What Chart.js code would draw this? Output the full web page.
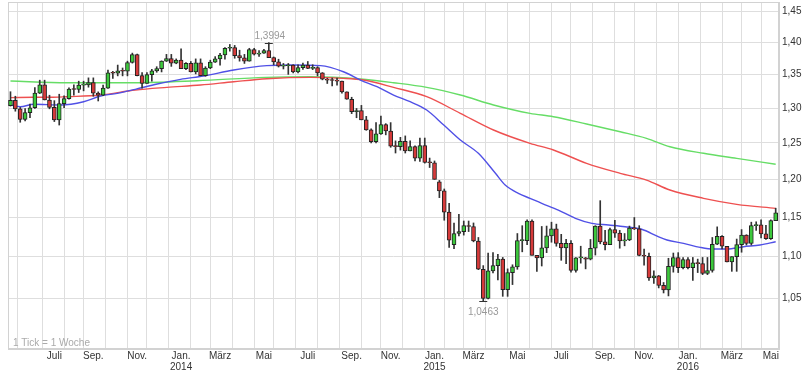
<!DOCTYPE html>
<html><head><meta charset="utf-8">
<script src="https://cdn.jsdelivr.net/npm/chart.js@4.4.1/dist/chart.umd.min.js"></script>
<style>html,body{margin:0;padding:0;background:#fff}#wrap{width:812px;height:376px}</style>
</head><body><div id="wrap"><canvas id="c" width="812" height="376"></canvas></div>
<script>
// Weekly candles EUR/USD, first week starts 2013-04-29 (index 0), last 2016-05-02 (index 157)
const firstWeek = '2013-04-29';
const open = [
1.3035,1.3115,1.2990,1.2835,1.2935,1.3005,1.3220,1.3345,1.3120,1.3010,
1.2830,1.3065,1.3140,1.3280,1.3275,1.3340,1.3345,1.3380,1.3220,1.3190,
1.3295,1.3525,1.3520,1.3555,1.3550,1.3685,1.3805,1.3485,1.3365,1.3500,
1.3555,1.3590,1.3705,1.3745,1.3675,1.3720,1.3590,1.3670,1.3540,1.3680,
1.3485,1.3600,1.3690,1.3740,1.3800,1.3905,1.3915,1.3790,1.3755,1.3705,
1.3885,1.3815,1.3830,1.3870,1.3760,1.3695,1.3630,1.3635,1.3645,1.3540,
1.3605,1.3645,1.3595,1.3605,1.3525,1.3430,1.3415,1.3410,1.3400,1.3240,
1.3130,1.2950,1.2965,1.2830,1.2685,1.2520,1.2630,1.2760,1.2670,1.2455,
1.2450,1.2525,1.2390,1.2450,1.2290,1.2465,1.2230,1.2225,1.1965,1.1845,
1.1565,1.1150,1.1290,1.1315,1.1390,1.1380,1.1195,1.0845,1.0495,1.0825,
1.0890,1.0970,1.0600,1.0805,1.0875,1.1200,1.1200,1.1450,1.1015,1.0985,
1.1110,1.1260,1.1350,1.1165,1.1110,1.1165,1.0830,1.0985,1.0985,1.0970,
1.1105,1.1385,1.1185,1.1150,1.1340,1.1295,1.1195,1.1210,1.1360,1.1350,
1.1015,1.1005,1.0740,1.0765,1.0650,1.0595,1.0880,1.0990,1.0865,1.0965,
1.0865,1.0925,1.0915,1.0795,1.0830,1.1155,1.1255,1.1130,1.0935,1.1000,
1.1150,1.1270,1.1165,1.1390,1.1400,1.1285,1.1225,1.1455];
const high = [
1.3242,1.3175,1.3010,1.2995,1.3060,1.3305,1.3415,1.3415,1.3190,1.3110,
1.3205,1.3180,1.3300,1.3345,1.3400,1.3400,1.3450,1.3450,1.3240,1.3340,
1.3570,1.3550,1.3645,1.3600,1.3705,1.3830,1.3815,1.3530,1.3530,1.3580,
1.3620,1.3710,1.3810,1.3810,1.3740,1.3895,1.3685,1.3700,1.3740,1.3740,
1.3620,1.3720,1.3775,1.3825,1.3915,1.3965,1.3950,1.3875,1.3810,1.3905,
1.3905,1.3870,1.3890,1.3994,1.3770,1.3735,1.3670,1.3670,1.3650,1.3650,
1.3675,1.3700,1.3650,1.3620,1.3530,1.3445,1.3445,1.3445,1.3400,1.3240,
1.3160,1.2995,1.3040,1.2880,1.2700,1.2790,1.2885,1.2775,1.2790,1.2530,
1.2580,1.2600,1.2530,1.2460,1.2570,1.2570,1.2290,1.2250,1.1985,1.1870,
1.1680,1.1425,1.1535,1.1450,1.1450,1.1425,1.1240,1.0890,1.1045,1.1050,
1.1030,1.0990,1.0850,1.0900,1.1290,1.1390,1.1465,1.1465,1.1015,1.1380,
1.1385,1.1435,1.1410,1.1280,1.1215,1.1200,1.0990,1.1130,1.0990,1.1215,
1.1390,1.1715,1.1330,1.1360,1.1460,1.1330,1.1290,1.1385,1.1495,1.1390,
1.1095,1.1045,1.0825,1.0770,1.0685,1.0980,1.1045,1.1050,1.0990,1.0990,
1.0990,1.0970,1.0990,1.0990,1.1240,1.1375,1.1265,1.1130,1.1000,1.1220,
1.1340,1.1275,1.1435,1.1440,1.1465,1.1395,1.1465,1.1616];
const low = [
1.3030,1.2955,1.2795,1.2815,1.2860,1.2995,1.3215,1.3120,1.2990,1.2805,
1.2755,1.3005,1.3130,1.3190,1.3230,1.3255,1.3310,1.3175,1.3105,1.3185,
1.3290,1.3440,1.3480,1.3480,1.3480,1.3675,1.3480,1.3295,1.3365,1.3400,
1.3535,1.3540,1.3700,1.3625,1.3665,1.3590,1.3575,1.3540,1.3510,1.3480,
1.3475,1.3590,1.3685,1.3645,1.3735,1.3860,1.3750,1.3705,1.3670,1.3705,
1.3800,1.3780,1.3825,1.3760,1.3648,1.3615,1.3585,1.3503,1.3525,1.3525,
1.3580,1.3590,1.3575,1.3480,1.3420,1.3365,1.3330,1.3340,1.3220,1.3130,
1.2920,1.2860,1.2830,1.2680,1.2500,1.2500,1.2620,1.2615,1.2440,1.2360,
1.2400,1.2360,1.2390,1.2250,1.2245,1.2220,1.2160,1.2000,1.1755,1.1460,
1.1115,1.1100,1.1260,1.1270,1.1315,1.1185,1.0840,1.0463,1.0490,1.0800,
1.0715,1.0520,1.0520,1.0660,1.0845,1.1060,1.1150,1.1020,1.0820,1.0885,
1.1050,1.1180,1.1130,1.0955,1.0915,1.0810,1.0810,1.0920,1.0850,1.0960,
1.1020,1.1160,1.1085,1.1150,1.1240,1.1105,1.1135,1.1200,1.1340,1.1010,
1.0895,1.0710,1.0675,1.0620,1.0560,1.0525,1.0810,1.0805,1.0850,1.0850,
1.0710,1.0805,1.0780,1.0780,1.0810,1.1150,1.1095,1.0935,1.0820,1.0820,
1.1055,1.1145,1.1145,1.1330,1.1235,1.1215,1.1215,1.1455];
const close = [
1.3115,1.2990,1.2835,1.2935,1.3005,1.3220,1.3345,1.3120,1.3010,1.2830,
1.3065,1.3140,1.3280,1.3275,1.3340,1.3345,1.3380,1.3220,1.3190,1.3295,
1.3525,1.3520,1.3555,1.3550,1.3685,1.3805,1.3485,1.3365,1.3500,1.3555,
1.3590,1.3705,1.3745,1.3675,1.3720,1.3590,1.3670,1.3540,1.3680,1.3485,
1.3600,1.3690,1.3740,1.3800,1.3905,1.3915,1.3790,1.3755,1.3705,1.3885,
1.3815,1.3830,1.3870,1.3760,1.3695,1.3630,1.3635,1.3645,1.3540,1.3605,
1.3645,1.3595,1.3605,1.3525,1.3430,1.3415,1.3410,1.3400,1.3240,1.3130,
1.2950,1.2965,1.2830,1.2685,1.2520,1.2630,1.2760,1.2670,1.2455,1.2450,
1.2525,1.2390,1.2450,1.2290,1.2465,1.2230,1.2225,1.2000,1.1845,1.1565,
1.1205,1.1290,1.1315,1.1390,1.1380,1.1195,1.0845,1.0495,1.0825,1.0890,
1.0970,1.0600,1.0805,1.0875,1.1200,1.1200,1.1450,1.1015,1.0985,1.1110,
1.1260,1.1350,1.1165,1.1110,1.1165,1.0830,1.0985,1.0985,1.0970,1.1105,
1.1385,1.1185,1.1150,1.1340,1.1295,1.1195,1.1210,1.1360,1.1350,1.1015,
1.1005,1.0740,1.0765,1.0650,1.0595,1.0880,1.0990,1.0865,1.0965,1.0865,
1.0925,1.0915,1.0795,1.0830,1.1155,1.1255,1.1130,1.0935,1.1000,1.1150,
1.1270,1.1165,1.1390,1.1400,1.1285,1.1225,1.1455,1.1555];

// Moving averages (week index, value)
const maBlueIdx = [0,2,4.8,10.3,15,18.5,21.9,25.6,30.1,34.9,39.6,45.8,52.6,58.1,63.6,68.3,71.8,75.2,78.6,82,85.4,88.9,92.3,96,99.5,101.5,104.2,106.6,109,112.4,115.9,119.3,122.7,126.1,129.5,132.9,134.7,138.1,141.5,144.2,147,150.4,153.8,157];
const maBlueVal = [1.3046,1.3021,1.3056,1.3046,1.3094,1.3178,1.3218,1.3278,1.3357,1.3428,1.3478,1.3569,1.3636,1.3646,1.3636,1.3543,1.3417,1.3317,1.3193,1.3094,1.2972,1.2755,1.2542,1.2356,1.2081,1.1923,1.1812,1.1746,1.1680,1.1592,1.1485,1.1420,1.1399,1.1377,1.1344,1.1250,1.1208,1.1166,1.1116,1.1095,1.1095,1.1124,1.1145,1.1186];
const maRedIdx = [0,4.8,8.2,11.6,18.5,25.6,32.1,39,45.8,52.6,61.5,68.3,72.4,78.6,85.4,92.3,99.1,106.6,111.4,118.2,125.1,130.5,135.3,142.2,149,157];
const maRedVal = [1.3155,1.3159,1.3159,1.3168,1.3193,1.3267,1.3307,1.3342,1.3392,1.3437,1.3458,1.3443,1.3417,1.3307,1.3168,1.2924,1.2684,1.2495,1.2402,1.2218,1.2081,1.1990,1.1856,1.1746,1.1667,1.1614];
const maGreenIdx = [0,11.6,25.3,38.3,52.3,61.5,71.8,78.6,85.4,92.3,99.1,106.6,111.4,118.2,125.1,130.5,135.3,142.2,149,157];
const maGreenVal = [1.3402,1.3377,1.3377,1.3407,1.3458,1.3467,1.3433,1.3377,1.3307,1.3193,1.3046,1.2924,1.2875,1.2770,1.2659,1.2566,1.2448,1.2356,1.2286,1.2204];

// Month grid lines (index of first weekly candle in each month) and labels
const monthIdx = [4,9,13,17,22,26,30,35,39,43,48,52,56,61,65,70,74,78,83,87,91,95,100,104,109,113,117,122,126,130,135,139,144,148,152,156];
const monthLabels = ['','Juli','','Sep.','','Nov.','',['Jan.','2014'],'','März','','Mai','','Juli','','Sep.','','Nov.','',['Jan.','2015'],'','März','','Mai','','Juli','','Sep.','','Nov.','',['Jan.','2016'],'','März','','Mai'];
const yTicks = [1.05,1.10,1.15,1.20,1.25,1.30,1.35,1.40,1.45];

const FONT = 'Liberation Sans, Arial, sans-serif';
const bodies = open.map((o,i)=>({x:i, y:[o, close[i]]}));
const wicks = low.map((l,i)=>({x:i, y:[l, high[i]]}));
const bodyColors = open.map((o,i)=> close[i] >= o ? '#3cc83c' : '#d63a3a');
const toPts = (xs, ys) => xs.map((x,i)=>({x, y:ys[i]}));

const framePlugin = {
  id:'frame',
  beforeDatasetsDraw(chart){
    const {ctx, chartArea:a} = chart;
    ctx.save(); ctx.strokeStyle='#d2d2d2'; ctx.lineWidth=1;
    ctx.strokeRect(Math.round(a.left)+0.5, Math.round(a.top)+0.5, Math.round(a.right-a.left)-1, Math.round(a.bottom-a.top)-1);
    ctx.restore();
  }
};
const notePlugin = {
  id:'notes',
  afterDatasetsDraw(chart){
    const {ctx} = chart; const xs = chart.scales.x, ys = chart.scales.y;
    ctx.save();
    ctx.font = '10px ' + FONT; ctx.fillStyle = '#aaaaaa'; ctx.textAlign='left'; ctx.textBaseline='middle';
    ctx.fillText('1 Tick = 1 Woche', 13, 343.5);
    let hi = 0, lo = 0;
    high.forEach((v,i)=>{ if (v > high[hi]) hi = i; });
    low.forEach((v,i)=>{ if (v < low[lo]) lo = i; });
    const hx = xs.getPixelForValue(hi), hy = Math.round(ys.getPixelForValue(high[hi]))+0.5;
    const lx = xs.getPixelForValue(lo), ly = Math.round(ys.getPixelForValue(low[lo]))+0.5;
    ctx.strokeStyle='#333'; ctx.lineWidth=1;
    ctx.beginPath(); ctx.moveTo(hx-4, hy); ctx.lineTo(hx+4, hy); ctx.moveTo(lx-4, ly); ctx.lineTo(lx+4, ly); ctx.stroke();
    ctx.fillStyle='#999999'; ctx.textAlign='center';
    ctx.fillText(high[hi].toFixed(4).replace('.',','), hx+1, hy-7);
    ctx.fillText(low[lo].toFixed(4).replace('.',','), lx, ly+10.5);
    ctx.restore();
  }
};

new Chart(document.getElementById('c'), {
  type:'bar',
  data:{datasets:[
    {type:'line', label:'GD grün', data:toPts(maGreenIdx, maGreenVal), borderColor:'#66dd66', borderWidth:1.4, pointRadius:0, cubicInterpolationMode:'monotone', order:5},
    {type:'line', label:'GD rot', data:toPts(maRedIdx, maRedVal), borderColor:'#ee5050', borderWidth:1.4, pointRadius:0, cubicInterpolationMode:'monotone', order:4},
    {type:'line', label:'GD blau', data:toPts(maBlueIdx, maBlueVal), borderColor:'#5050e6', borderWidth:1.4, pointRadius:0, cubicInterpolationMode:'monotone', order:3},
    {type:'bar', label:'Docht', data:wicks, backgroundColor:'#333333', barThickness:1, grouped:false, order:2},
    {type:'bar', label:'Kerze', data:bodies, backgroundColor:bodyColors, borderColor:'#222222', borderWidth:1, borderSkipped:false, barThickness:4, minBarLength:1, grouped:false, order:1}
  ]},
  options:{
    responsive:false, animation:false, events:[],
    layout:{padding:{left:8, top:2, right:0, bottom:0}},
    plugins:{legend:{display:false}, tooltip:{enabled:false}},
    scales:{
      x:{type:'linear', min:-0.51, max:157.68, offset:false, bounds:'data',
        grid:{color:'#dedede', drawTicks:false}, border:{color:'#d2d2d2'},
        ticks:{autoSkip:false, maxRotation:0, padding:2, color:'#333', font:{family:FONT, size:10, lineHeight:1.1},
          callback:(v,i)=>monthLabels[i]},
        afterBuildTicks:s=>{ s.ticks = monthIdx.map(v=>({value:v})); },
        afterFit:s=>{ s.height = 27; s.paddingLeft = 0; s.paddingRight = 0; }
      },
      y:{type:'logarithmic', position:'right', min:0.9915, max:1.4648, bounds:'data',
        grid:{color:'#dedede', drawTicks:false}, border:{color:'#d2d2d2'},
        ticks:{padding:3, color:'#333', font:{family:FONT, size:10}, callback:v=>Number(v).toFixed(2).replace('.',',')},
        afterBuildTicks:s=>{ s.ticks = yTicks.map(v=>({value:v})); },
        afterFit:s=>{ s.width = 33; s.paddingTop = 0; s.paddingBottom = 0; }
      }
    }
  },
  plugins:[framePlugin, notePlugin]
});
</script></body></html>
